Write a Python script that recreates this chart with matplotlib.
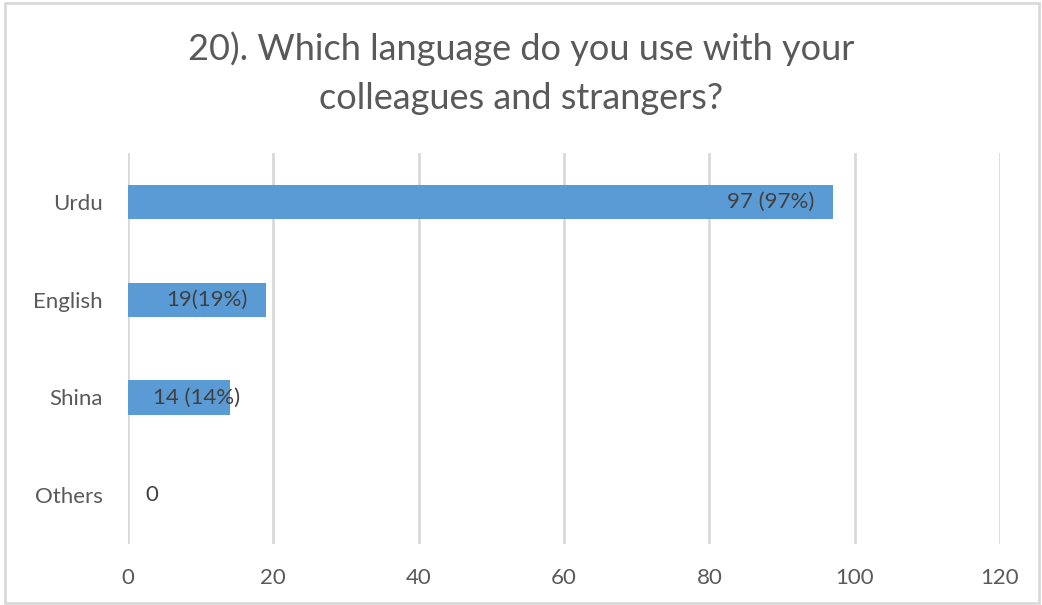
import matplotlib.pyplot as plt
from matplotlib.patches import Rectangle

categories = ['Urdu', 'English', 'Shina', 'Others']
counts = [97, 19, 14, 0]
bar_labels = ['97 (97%)', '19(19%)', '14 (14%)', '0']
label_dx = [-18, -18, 10, 17]   # pixel offset of the label edge from bar end
label_ha = ['right', 'right', 'right', 'left']
xticks = [0, 20, 40, 60, 80, 100, 120]

plt.rcParams['font.family'] = ['Lato', 'DejaVu Sans']
txt = '#595959'
grid = '#D9D9D9'
bar_col = '#5B9BD5'

fig = plt.figure(figsize=(10.42, 6.05), dpi=100)
ax = fig.add_axes([0.1228, 0.1008, 0.8369, 0.6462])

y = list(range(len(categories)))
ax.barh(y, counts, height=0.35, color=bar_col, zorder=3)

for i in y:
    ax.annotate(bar_labels[i], (counts[i], i), xytext=(label_dx[i], 0), textcoords='offset pixels',
                ha=label_ha[i], va='center', fontsize=16, color='#404040', zorder=4)

ax.set_xlim(0, 120)
ax.set_ylim(len(categories) - 0.5, -0.5)
ax.set_xticks(xticks)
ax.set_yticks(y)
ax.set_yticklabels(categories)
ax.tick_params(axis='both', length=0, colors=txt, labelsize=16)
ax.tick_params(axis='x', pad=17)
ax.tick_params(axis='y', pad=18)
ax.xaxis.grid(True, color=grid, linewidth=2)
ax.set_axisbelow(True)
for s in ax.spines.values():
    s.set_visible(False)

fig.text(0.5, 0.92, '20). Which language do you use with your', ha='center', va='center',
         fontsize=26, color=txt)
fig.text(0.5, 0.838, 'colleagues and strangers?', ha='center', va='center',
         fontsize=26, color=txt)

fig.patches.append(Rectangle((0.005, 0.003), 0.992, 0.992, transform=fig.transFigure,
                             fill=False, edgecolor=grid, linewidth=2))

fig.savefig('out.png', dpi=100)
